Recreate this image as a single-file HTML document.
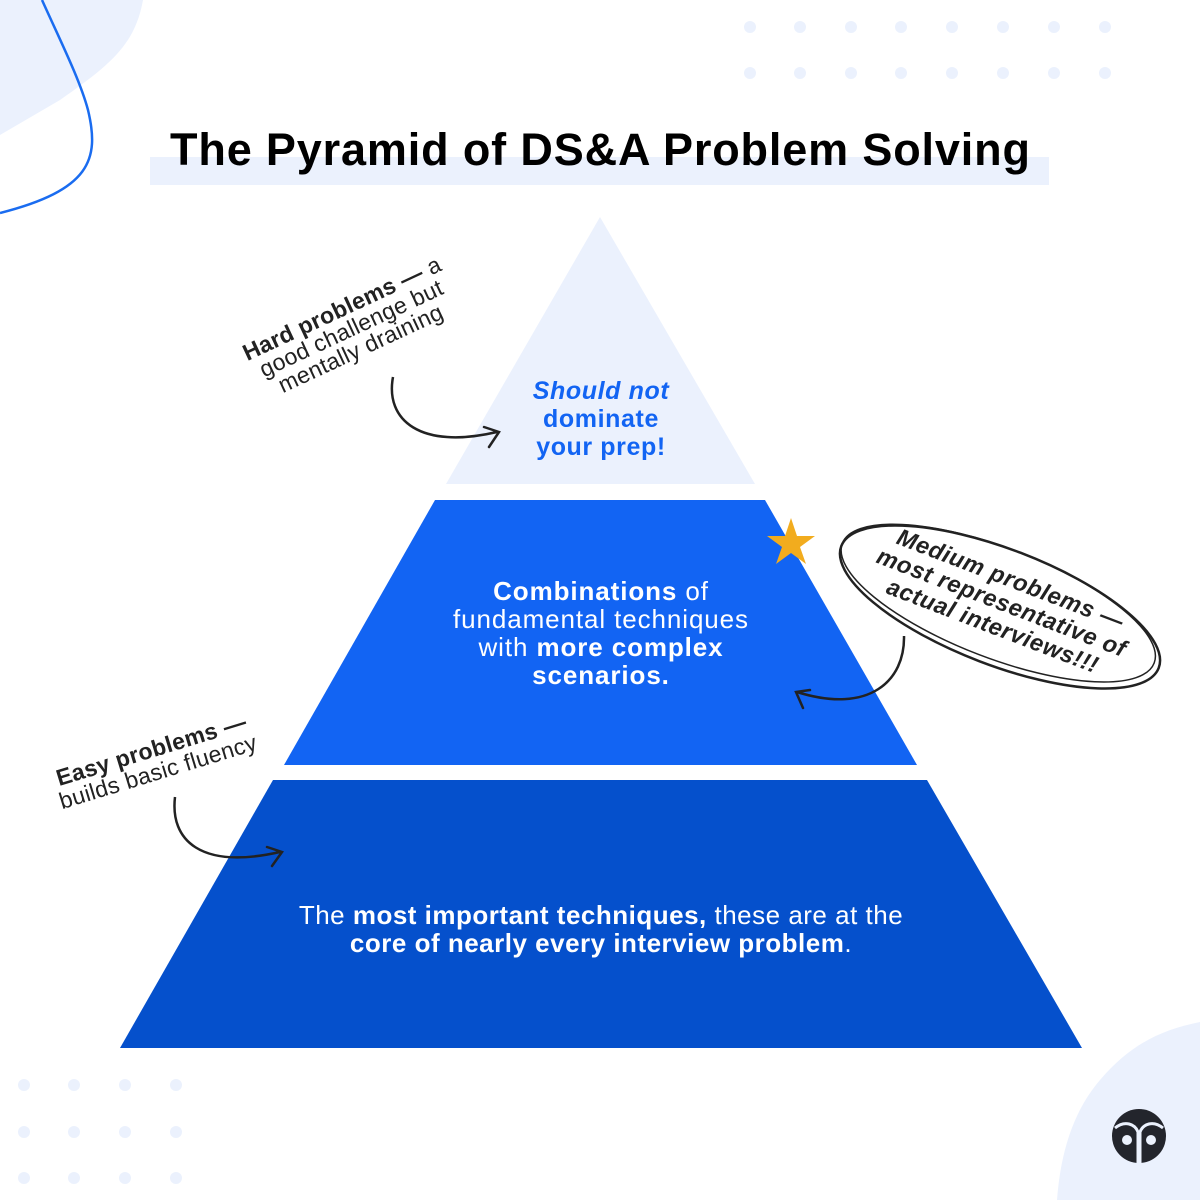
<!DOCTYPE html>
<html><head><meta charset="utf-8"><style>
html,body{margin:0;padding:0;background:#fff;}
svg{display:block;}
text{font-family:"Liberation Sans","DejaVu Sans",sans-serif;}
</style></head><body>
<svg width="1200" height="1200" viewBox="0 0 1200 1200" xmlns="http://www.w3.org/2000/svg">
<path d="M0,0 L143,0 C135,45 110,65 60,100 L0,135 Z" fill="#ebf1fd"/>
<path d="M42,0 C60,40 80,80 88,110 C100,160 90,190 0,213" fill="none" stroke="#1a6cf0" stroke-width="2.5"/>
<path d="M1200,1022 C1160,1030 1130,1045 1100,1080 C1070,1115 1060,1160 1057,1200 L1200,1200 Z" fill="#ebf1fd"/>
<g fill="#ebf1fd">
<circle cx="750" cy="27" r="6"/><circle cx="800" cy="27" r="6"/><circle cx="851" cy="27" r="6"/><circle cx="901" cy="27" r="6"/><circle cx="952" cy="27" r="6"/><circle cx="1003" cy="27" r="6"/><circle cx="1054" cy="27" r="6"/><circle cx="1105" cy="27" r="6"/>
<circle cx="750" cy="73" r="6"/><circle cx="800" cy="73" r="6"/><circle cx="851" cy="73" r="6"/><circle cx="901" cy="73" r="6"/><circle cx="952" cy="73" r="6"/><circle cx="1003" cy="73" r="6"/><circle cx="1054" cy="73" r="6"/><circle cx="1105" cy="73" r="6"/>
<circle cx="24" cy="1085" r="6"/><circle cx="74" cy="1085" r="6"/><circle cx="125" cy="1085" r="6"/><circle cx="176" cy="1085" r="6"/>
<circle cx="24" cy="1132" r="6"/><circle cx="74" cy="1132" r="6"/><circle cx="125" cy="1132" r="6"/><circle cx="176" cy="1132" r="6"/>
<circle cx="24" cy="1178" r="6"/><circle cx="74" cy="1178" r="6"/><circle cx="125" cy="1178" r="6"/><circle cx="176" cy="1178" r="6"/>
</g>
<rect x="150" y="157" width="899" height="28" fill="#ebf1fd"/>
<text x="600" y="165" text-anchor="middle" font-size="45" font-weight="bold" fill="#000" textLength="860" lengthAdjust="spacing">The Pyramid of DS&amp;A Problem Solving</text>
<polygon points="600,217 755,484 446,484" fill="#ebf1fd"/>
<polygon points="435,500 765,500 917,765 284,765" fill="#1264f3"/>
<polygon points="273,780 927,780 1082,1048 120,1048" fill="#0550cc"/>
<g font-size="25" font-weight="bold" fill="#1264f3" text-anchor="middle" letter-spacing="0.6">
<text x="601" y="399" font-style="italic">Should not</text>
<text x="601" y="427">dominate</text>
<text x="601" y="455">your prep!</text>
</g>
<g font-size="26" fill="#fff" text-anchor="middle" letter-spacing="0.9">
<text x="601" y="600"><tspan font-weight="bold">Combinations</tspan> of</text>
<text x="601" y="628">fundamental techniques</text>
<text x="601" y="656">with <tspan font-weight="bold">more complex</tspan></text>
<text x="601" y="684" font-weight="bold">scenarios.</text>
</g>
<g font-size="26" fill="#fff" text-anchor="middle" letter-spacing="0.5">
<text x="601" y="924"><tspan>The </tspan><tspan font-weight="bold">most important techniques,</tspan> these are at the</text>
<text x="601" y="952"><tspan font-weight="bold">core of nearly every interview problem</tspan>.</text>
</g>
<polygon points="791,518 797,536 815,536 800,547 806,564 791,553 776,564 782,547 767,536 785,536" fill="#f2ac1e"/>
<g transform="translate(352,330) rotate(-25)" font-size="23" fill="#222" text-anchor="middle" letter-spacing="0.3">
<text x="0" y="-16"><tspan font-weight="bold">Hard problems —</tspan> a</text>
<text x="0" y="6">good challenge but</text>
<text x="0" y="28">mentally draining</text>
</g>
<path d="M393,377 C385,420 420,450 497,432" fill="none" stroke="#222" stroke-width="2.5"/>
<path d="M484,427 L499,432 L489,447" fill="none" stroke="#222" stroke-width="2.5" stroke-linecap="round"/>
<g transform="translate(155,762) rotate(-17)" font-size="23" fill="#222" text-anchor="middle" letter-spacing="0.3">
<text x="0" y="-5" font-weight="bold">Easy problems —</text>
<text x="0" y="18">builds basic fluency</text>
</g>
<path d="M175,797 C170,840 200,870 280,852" fill="none" stroke="#222" stroke-width="2.5"/>
<path d="M267,847 L282,852 L272,866" fill="none" stroke="#222" stroke-width="2.5" stroke-linecap="round"/>
<g transform="translate(1000,607) rotate(21)">
<ellipse cx="0" cy="0" rx="170" ry="58" fill="none" stroke="#222" stroke-width="2.5"/>
<ellipse cx="-3" cy="-3" rx="167" ry="55" fill="none" stroke="#222" stroke-width="1.5"/>
<g font-size="23.5" font-weight="bold" font-style="italic" fill="#222" text-anchor="middle" letter-spacing="0.6">
<text x="0" y="-22">Medium problems —</text>
<text x="0" y="3">most representative of</text>
<text x="0" y="28">actual interviews!!!</text>
</g>
</g>
<path d="M904,636 C905,680 870,715 797,692" fill="none" stroke="#222" stroke-width="2.5"/>
<path d="M810,690 L796,692 L803,708" fill="none" stroke="#222" stroke-width="2.5" stroke-linecap="round"/>
<g transform="translate(1139,1136)">
<circle cx="0" cy="0" r="27" fill="#23252c"/>
<path d="M-24,-8 C-14,-16 -4,-12 -1,-4 L-1,28 L1,28 L1,-4 C4,-12 14,-16 24,-8" fill="none" stroke="#ebf1fd" stroke-width="3"/>
<circle cx="-12" cy="4" r="5" fill="#ebf1fd"/>
<circle cx="12" cy="4" r="5" fill="#ebf1fd"/>
</g>
</svg>
</body></html>
